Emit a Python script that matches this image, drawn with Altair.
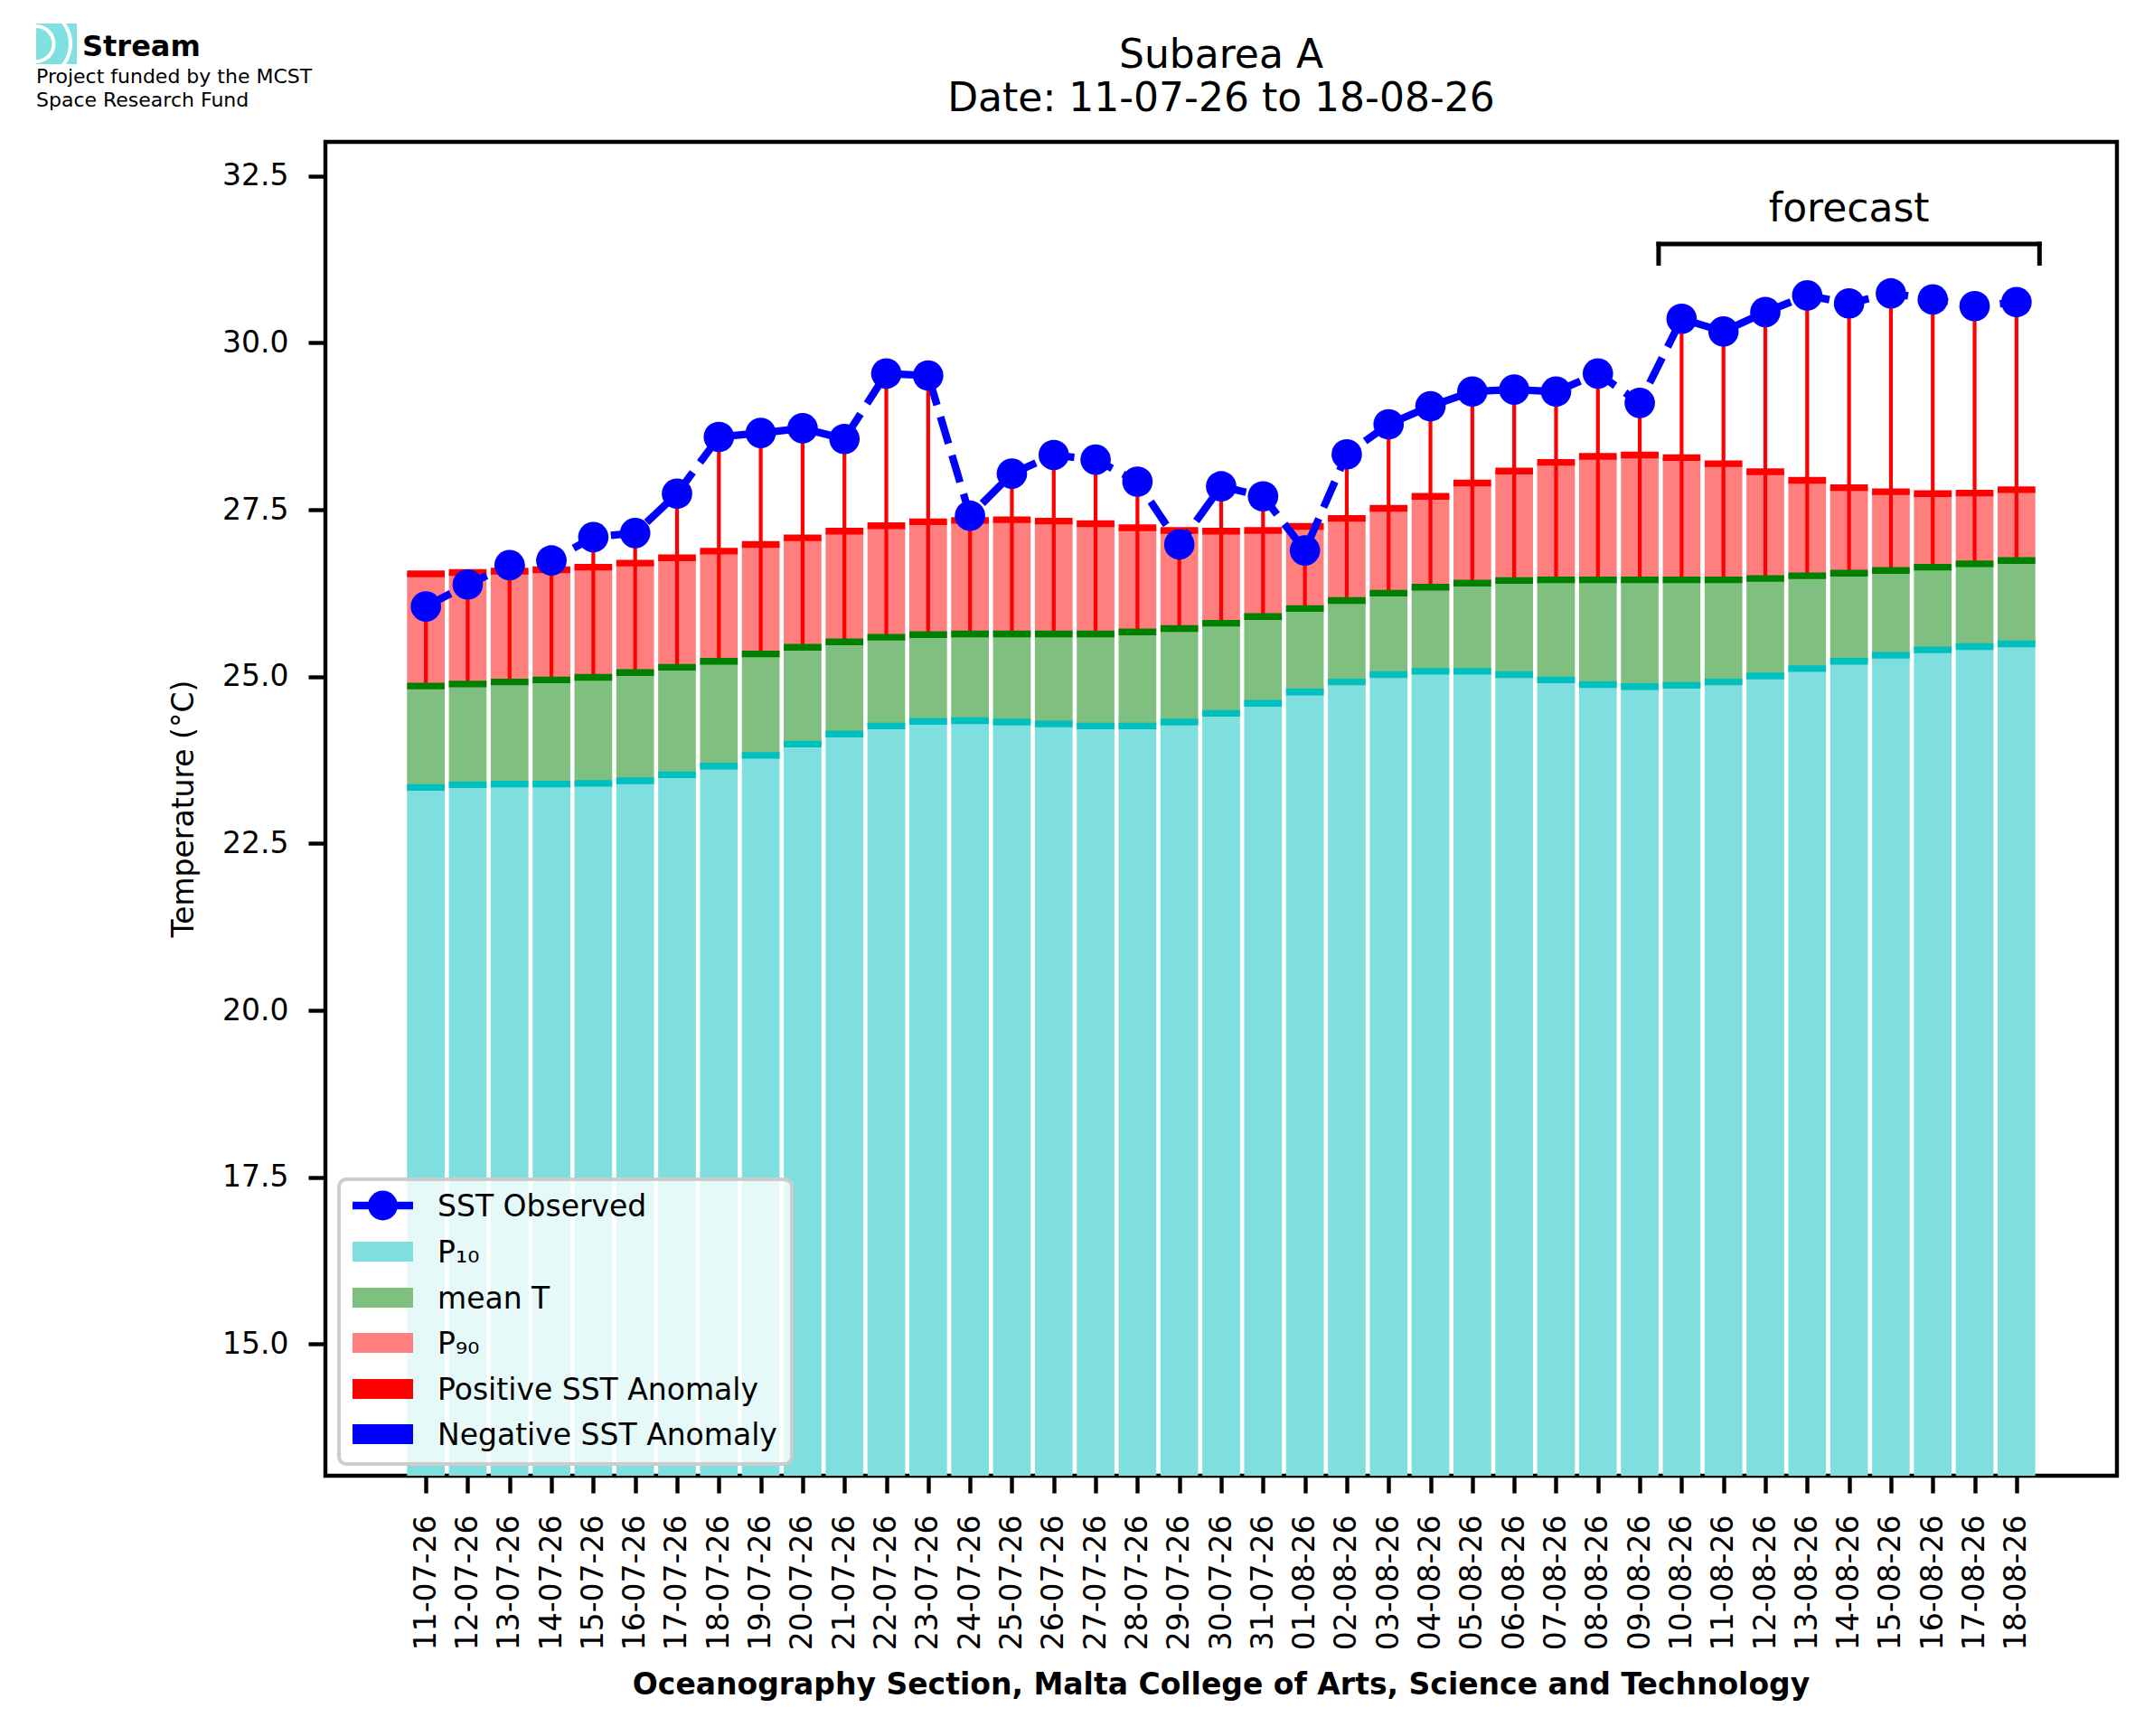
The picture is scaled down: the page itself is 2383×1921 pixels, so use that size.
import altair as alt
import pandas as pd

# ---------------- data ----------------
dates = ["11-07-26", "12-07-26", "13-07-26", "14-07-26", "15-07-26", "16-07-26",
         "17-07-26", "18-07-26", "19-07-26", "20-07-26", "21-07-26", "22-07-26",
         "23-07-26", "24-07-26", "25-07-26", "26-07-26", "27-07-26", "28-07-26",
         "29-07-26", "30-07-26", "31-07-26", "01-08-26", "02-08-26", "03-08-26",
         "04-08-26", "05-08-26", "06-08-26", "07-08-26", "08-08-26", "09-08-26",
         "10-08-26", "11-08-26", "12-08-26", "13-08-26", "14-08-26", "15-08-26",
         "16-08-26", "17-08-26", "18-08-26"]

p10 = [23.34, 23.38, 23.39, 23.39, 23.40, 23.44, 23.53, 23.66, 23.82, 23.99,
       24.14, 24.26, 24.33, 24.34, 24.32, 24.29, 24.26, 24.26, 24.32, 24.45,
       24.60, 24.77, 24.92, 25.03, 25.08, 25.08, 25.03, 24.95, 24.88, 24.85,
       24.87, 24.92, 25.01, 25.12, 25.23, 25.32, 25.40, 25.45, 25.49]

mean_t = [24.86, 24.89, 24.92, 24.95, 24.99, 25.06, 25.14, 25.23, 25.34, 25.44,
          25.52, 25.59, 25.63, 25.64, 25.64, 25.64, 25.64, 25.67, 25.72, 25.80,
          25.90, 26.02, 26.14, 26.25, 26.34, 26.40, 26.44, 26.45, 26.45, 26.45,
          26.45, 26.45, 26.47, 26.51, 26.55, 26.59, 26.64, 26.69, 26.74]

p90 = [26.54, 26.56, 26.58, 26.60, 26.64, 26.70, 26.78, 26.88, 26.98, 27.08,
       27.18, 27.26, 27.32, 27.34, 27.35, 27.33, 27.29, 27.23, 27.19, 27.18,
       27.19, 27.25, 27.37, 27.52, 27.70, 27.90, 28.08, 28.21, 28.30, 28.32,
       28.28, 28.19, 28.07, 27.94, 27.83, 27.77, 27.74, 27.75, 27.80]

sst = [26.05, 26.38, 26.67, 26.74, 27.09, 27.15, 27.74, 28.59, 28.65, 28.72,
       28.56, 29.54, 29.51, 27.41, 28.04, 28.32, 28.25, 27.92, 26.98, 27.85,
       27.70, 26.89, 28.33, 28.78, 29.05, 29.27, 29.30, 29.27, 29.54, 29.10,
       30.36, 30.17, 30.46, 30.71, 30.59, 30.74, 30.65, 30.55, 30.61]

y_ticks = [15.0, 17.5, 20.0, 22.5, 25.0, 27.5, 30.0, 32.5]

forecast_start = "10-08-26"
forecast_end = "18-08-26"

legend_labels = ["SST Observed", "P\u2081\u2080", "mean T", "P\u2089\u2080",
                 "Positive SST Anomaly", "Negative SST Anomaly"]
legend_colors = ["#0000FF", "#7FDFDF", "#7FBF7F", "#FF7F7F", "#FF0000", "#0000FF"]

# ---------------- layout constants ----------------
FONT = "DejaVu Sans"
W, H = 1982, 1476
YMIN, YMAX = 13.03, 33.01
XMIN, XMAX = -2.40, 40.40
HALF = 0.45

df = pd.DataFrame({"idx": list(range(len(dates))), "date": dates,
                   "p10": p10, "mean": mean_t, "p90": p90, "sst": sst})
df["base"] = YMIN

xs = alt.Scale(domain=[XMIN, XMAX], nice=False, zero=False)
ys = alt.Scale(domain=[YMIN, YMAX], nice=False, zero=False)

label_expr = "[" + ",".join("'%s'" % d for d in dates) + "][datum.value]"

x_axis = alt.Axis(values=list(range(len(dates))), labelExpr=label_expr, labelAngle=270,
                  labelFontSize=33, labelFont=FONT, labelColor="black",
                  tickSize=19, tickWidth=4.4, tickColor="black", labelPadding=24,
                  domain=False, grid=False, title=None, labelOverlap=False,
                  labelFlush=False)
y_axis = alt.Axis(values=y_ticks, format=".1f", labelFontSize=33, labelFont=FONT,
                  labelColor="black", tickSize=19, tickWidth=4.4, tickColor="black",
                  labelPadding=22, domain=False, grid=False, title=None,
                  labelOverlap=False, labelFlush=False)

base = alt.Chart(df).transform_calculate(x0="datum.idx - %f" % HALF,
                                         x1="datum.idx + %f" % HALF)


def seg(lo, hi, color):
    return base.mark_rect(color=color).encode(
        x=alt.X("x0:Q", scale=xs, axis=x_axis), x2="x1:Q",
        y=alt.Y(lo + ":Q", scale=ys, axis=y_axis), y2=hi + ":Q")


def band(field, color):
    return base.transform_calculate(
        b0="datum.%s - 0.05" % field, b1="datum.%s + 0.05" % field
    ).mark_rect(color=color).encode(
        x=alt.X("x0:Q", scale=xs, axis=x_axis), x2="x1:Q",
        y=alt.Y("b0:Q", scale=ys, axis=y_axis), y2="b1:Q")


bar_p10 = seg("base", "p10", "#7FDFDF")
bar_mean = seg("p10", "mean", "#7FBF7F")
bar_p90 = seg("mean", "p90", "#FF7F7F")

pos_anom = alt.Chart(df).transform_filter("datum.sst > datum.mean").mark_rule(
    color="#FF0000", strokeWidth=4.2).encode(
    x=alt.X("idx:Q", scale=xs, axis=x_axis),
    y=alt.Y("mean:Q", scale=ys, axis=y_axis), y2="sst:Q")
neg_anom = alt.Chart(df).transform_filter("datum.sst < datum.p10").mark_rule(
    color="#0000FF", strokeWidth=4.2).encode(
    x=alt.X("idx:Q", scale=xs, axis=x_axis),
    y=alt.Y("p10:Q", scale=ys, axis=y_axis), y2="sst:Q")

band_p10 = band("p10", "#00BFBF")
band_mean = band("mean", "#008000")
band_p90 = band("p90", "#FF0000")

sst_line = alt.Chart(df).mark_line(color="#0000FF", strokeWidth=8.3,
                                   strokeDash=[31, 13.5]).encode(
    x=alt.X("idx:Q", scale=xs, axis=x_axis),
    y=alt.Y("sst:Q", scale=ys, axis=y_axis))
sst_pts = alt.Chart(df).mark_circle(color="#0000FF", size=1134, opacity=1).encode(
    x=alt.X("idx:Q", scale=xs, axis=x_axis),
    y=alt.Y("sst:Q", scale=ys, axis=y_axis))

# forecast bracket
i0 = dates.index(forecast_start) - 0.55
i1 = dates.index(forecast_end) + 0.55
b_top, b_low, t_y = 31.48, 31.19, 31.82
bracket_df = pd.DataFrame({"x": [i0, i0, i1], "x2": [i1, i0, i1],
                           "y": [b_top, b_top, b_top], "y2": [b_top, b_low, b_low]})
bracket = alt.Chart(bracket_df).mark_rule(color="black", strokeWidth=5,
                                          strokeCap="square").encode(
    x=alt.X("x:Q", scale=xs, axis=x_axis), x2="x2:Q",
    y=alt.Y("y:Q", scale=ys, axis=y_axis), y2="y2:Q")
fc_df = pd.DataFrame({"x": [(i0 + i1) / 2], "y": [t_y], "t": ["forecast"]})
fc_text = alt.Chart(fc_df).mark_text(fontSize=44, font=FONT, color="black",
                                     baseline="alphabetic", align="center").encode(
    x=alt.X("x:Q", scale=xs, axis=x_axis), y=alt.Y("y:Q", scale=ys, axis=y_axis),
    text="t:N")

one = pd.DataFrame({"a": [0]})


def vtext(txt, x, y, size, **kw):
    return alt.Chart(one).mark_text(text=txt, fontSize=size, font=FONT,
                                    color="black", **kw).encode(
        x=alt.value(x), y=alt.value(y))


def vrect(x, x2, y, y2, **kw):
    return alt.Chart(one).mark_rect(**kw).encode(
        x=alt.value(x), x2=alt.value(x2), y=alt.value(y), y2=alt.value(y2))


# legend (drawn manually, matplotlib style)
leg_layers = [vrect(15, 516, 1148, 1463, fill="white", fillOpacity=0.8,
                    stroke="#CCCCCC", strokeWidth=4, cornerRadius=8)]
row_y = [1177, 1228, 1279, 1329, 1380, 1430]
for i, (lab, col) in enumerate(zip(legend_labels, legend_colors)):
    cy = row_y[i]
    if i == 0:
        leg_layers.append(alt.Chart(one).mark_rule(color=col, strokeWidth=8.3).encode(
            x=alt.value(30), x2=alt.value(97), y=alt.value(cy)))
        leg_layers.append(alt.Chart(one).mark_circle(color=col, size=1075, opacity=1).encode(
            x=alt.value(63.5), y=alt.value(cy)))
    else:
        leg_layers.append(vrect(30, 97, cy - 11, cy + 11, color=col))
    leg_layers.append(vtext(lab, 124, cy + 12, 33, align="left", baseline="alphabetic"))

# logo (drawn beneath the texts)
logo = [
    vrect(-320, -275, -131, -86, color="#80E0E0"),
    alt.Chart(one).mark_arc(radius=21.5, radius2=17.5, theta=0, theta2=3.1416,
                            color="white").encode(x=alt.value(-320), y=alt.value(-108.5)),
    alt.Chart(one).mark_arc(radius=40, radius2=36, theta=0.6, theta2=2.54,
                            color="white").encode(x=alt.value(-320), y=alt.value(-108.5)),
]

# titles & annotations
texts = [
    vtext("Subarea A", W / 2, -82, 44, align="center", baseline="alphabetic"),
    vtext("Date: 11-07-26 to 18-08-26", W / 2, -34, 44, align="center",
          baseline="alphabetic"),
    vtext("Temperature (\u00b0C)", -146, H / 2, 33, align="center",
          baseline="alphabetic", angle=270),
    vtext("Oceanography Section, Malta College of Arts, Science and Technology",
          W / 2, H + 242, 33, align="center", baseline="alphabetic", fontWeight="bold"),
    vtext("Stream", -269, -95, 32, align="left", baseline="alphabetic",
          fontWeight="bold"),
    vtext("Project funded by the MCST", -320, -65, 22, align="left",
          baseline="alphabetic"),
    vtext("Space Research Fund", -320, -39, 22, align="left", baseline="alphabetic"),
]

chart = alt.layer(
    bar_p10, bar_mean, bar_p90, pos_anom, neg_anom, band_p10, band_mean, band_p90,
    sst_line, sst_pts, bracket, fc_text, *leg_layers, *logo, *texts
).properties(
    width=W, height=H,
    autosize=alt.AutoSizeParams(type="none"),
    padding={"left": 352, "top": 149, "right": 25, "bottom": 275},
    background="white",
).configure_view(stroke="black", strokeWidth=4.4)

chart.save("out.html", embed_options={"renderer": "svg", "actions": False})
